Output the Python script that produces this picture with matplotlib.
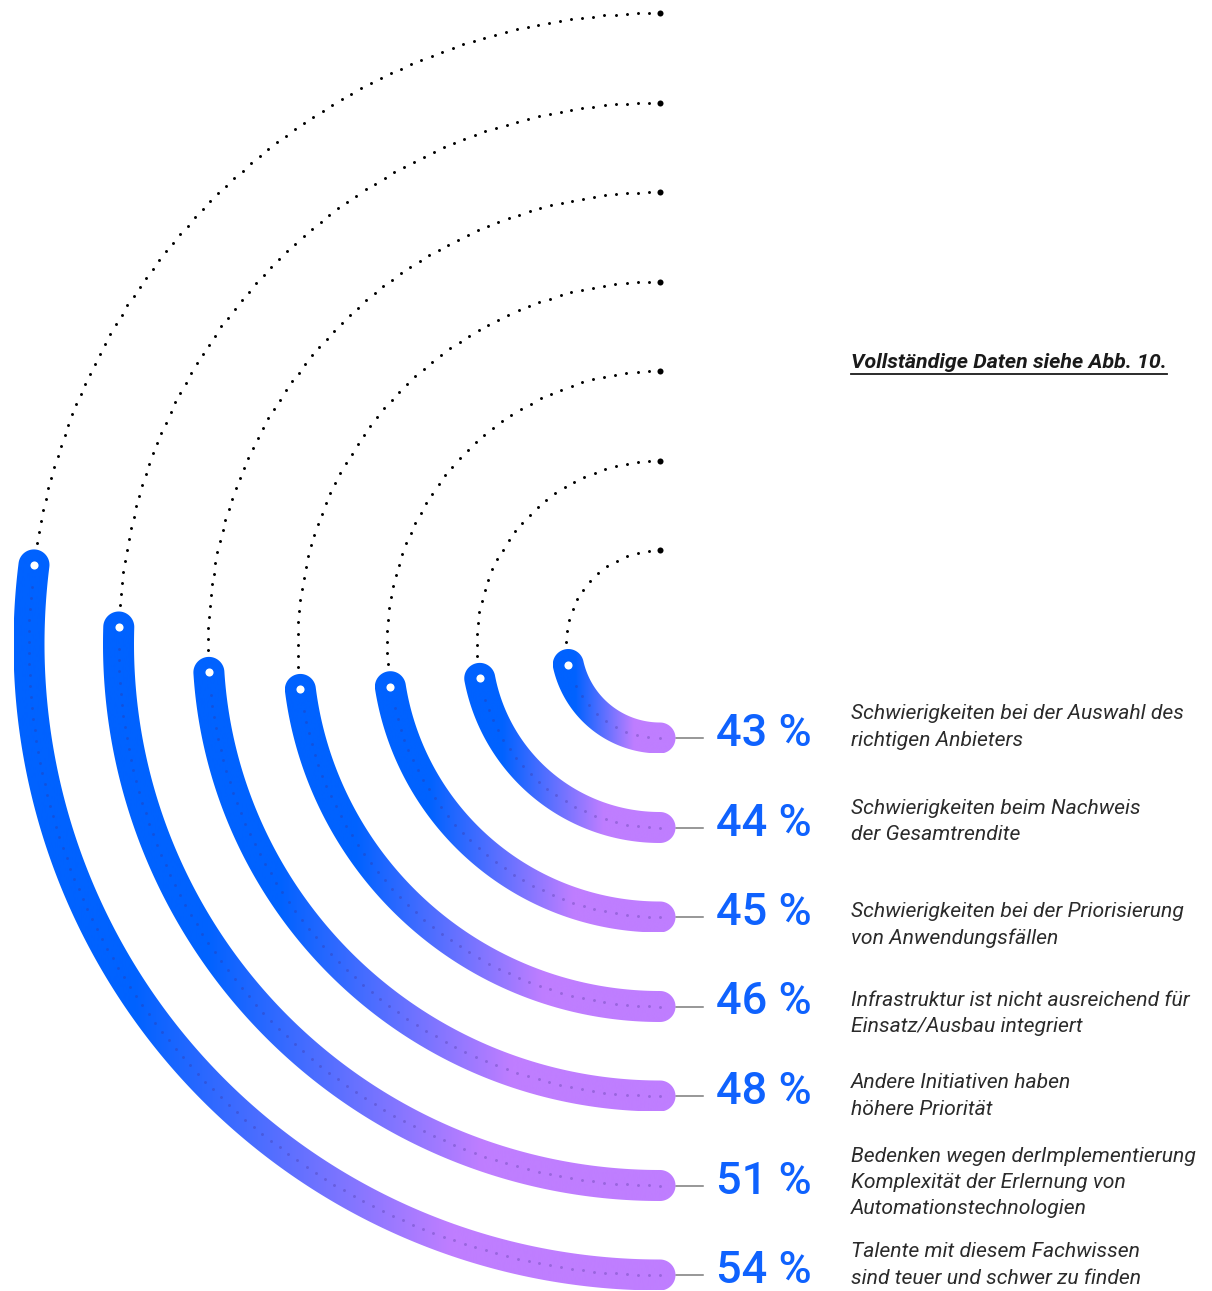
import numpy as np
import matplotlib.pyplot as plt
from matplotlib.colors import LinearSegmentedColormap
from matplotlib.patches import PathPatch
from matplotlib.path import Path

# survey shares, innermost ring first
shares = [43, 44, 45, 46, 48, 51, 54]
labels = [
    "Schwierigkeiten bei der Auswahl des\nrichtigen Anbieters",
    "Schwierigkeiten beim Nachweis\nder Gesamtrendite",
    "Schwierigkeiten bei der Priorisierung\nvon Anwendungsfällen",
    "Infrastruktur ist nicht ausreichend für\nEinsatz/Ausbau integriert",
    "Andere Initiativen haben\nhöhere Priorität",
    "Bedenken wegen derImplementierung\nKomplexität der Erlernung von\nAutomationstechnologien",
    "Talente mit diesem Fachwissen\nsind teuer und schwer zu finden",
]
note = "Vollständige Daten siehe Abb. 10."

# small vertical nudges for the description blocks (px)
label_dy = [-11, -6, 8, 7, 0, -3, -10]

W, H = 1212, 1291
fig = plt.figure(figsize=(W / 100, H / 100), dpi=100)
ax = fig.add_axes([0, 0, 1, 1])
ax.set_xlim(0, W)
ax.set_ylim(H, 0)
ax.axis("off")

cx, cy = 660, 644
r0, step = 94, 89.5
band = 31
BLUE = "#0062ff"
PURPLE = "#bf7eff"
cmap = LinearSegmentedColormap.from_list(
    "ring", [(0, BLUE), (0.18, BLUE), (0.66, PURPLE), (1, PURPLE)])
grad = np.linspace(0, 1, 512).reshape(1, -1)


def pt(r, phi):
    # phi = 0 at the bottom, growing clockwise towards the top
    return cx - r * np.sin(phi), cy + r * np.cos(phi)


def along(r, a, b, gap=11.0):
    n = max(int(r * (b - a) / gap), 1)
    return pt(r, np.linspace(a, b, n + 1))


def ring_path(r, end):
    h = band / 2
    phi = np.linspace(0, end, 300)
    outer = np.column_stack(pt(r + h, phi))
    inner = np.column_stack(pt(r - h, phi[::-1]))
    alpha = np.linspace(0, np.pi, 40)
    ex, ey = pt(r, end)
    N = np.array([-np.sin(end), np.cos(end)])
    T = np.array([-np.cos(end), -np.sin(end)])
    cap_end = np.array([ex, ey]) + h * (np.outer(np.cos(alpha), N) + np.outer(np.sin(alpha), T))
    sx, sy = pt(r, 0)
    N0 = np.array([0.0, 1.0])
    T0 = np.array([-1.0, 0.0])
    cap_start = np.array([sx, sy]) + h * (np.outer(np.cos(alpha), -N0) + np.outer(np.sin(alpha), -T0))
    verts = np.vstack([outer, cap_end, inner, cap_start, outer[:1]])
    codes = [Path.MOVETO] + [Path.LINETO] * (len(verts) - 2) + [Path.CLOSEPOLY]
    return Path(verts, codes)


for i, (v, lab) in enumerate(zip(shares, labels)):
    r = r0 + step * i
    end = np.radians(180 * v / 100)

    # dotted remainder of the half circle
    x, y = along(r, end, np.pi)
    ax.scatter(x[1:-1], y[1:-1], s=4.5, color="black", lw=0, zorder=2)
    tx, ty = pt(r, np.pi)
    ax.scatter([tx], [ty], s=19, color="black", lw=0, zorder=2)

    # thick gradient ring
    path = ring_path(r, end)
    patch = PathPatch(path, facecolor="none", edgecolor="none")
    ax.add_patch(patch)
    ext = path.get_extents()
    im = ax.imshow(grad, cmap=cmap, aspect="auto", interpolation="bicubic",
                   extent=(ext.x0, ext.x1, ext.y1, ext.y0), zorder=3)
    im.set_clip_path(patch)

    # faint dots running inside the ring
    x, y = along(r, 0.0, end)
    ax.scatter(x[:-2], y[:-2], s=4.5, color="#3d2a8a", alpha=0.28, lw=0, zorder=4)
    ex, ey = pt(r, end)
    ax.scatter([ex], [ey], s=34, color="white", lw=0, zorder=5)

    # connector, value and description
    by = cy + r
    ax.plot([cx + band / 2, 703], [by, by], color="#7a7a7a", lw=1.1, zorder=2)
    ax.text(716, by - 4, f"{v} %", fontsize=32.5, color="#0f62fe",
            family="Roboto", weight="medium", va="center", ha="left")
    ax.text(851, by + label_dy[i], lab, fontsize=15.2, color="#2b2b2b",
            family="Roboto", style="italic", va="center", ha="left",
            linespacing=1.5)

t = ax.text(851, 362, note, fontsize=15.4, color="#1a1a1a", family="Roboto",
            style="italic", weight="bold", va="center", ha="left")
fig.canvas.draw()
bb = t.get_window_extent().transformed(ax.transData.inverted())
ax.plot([bb.x0, bb.x1], [374, 374], color="#1a1a1a", lw=1.3)

fig.savefig("out.png", dpi=100)
